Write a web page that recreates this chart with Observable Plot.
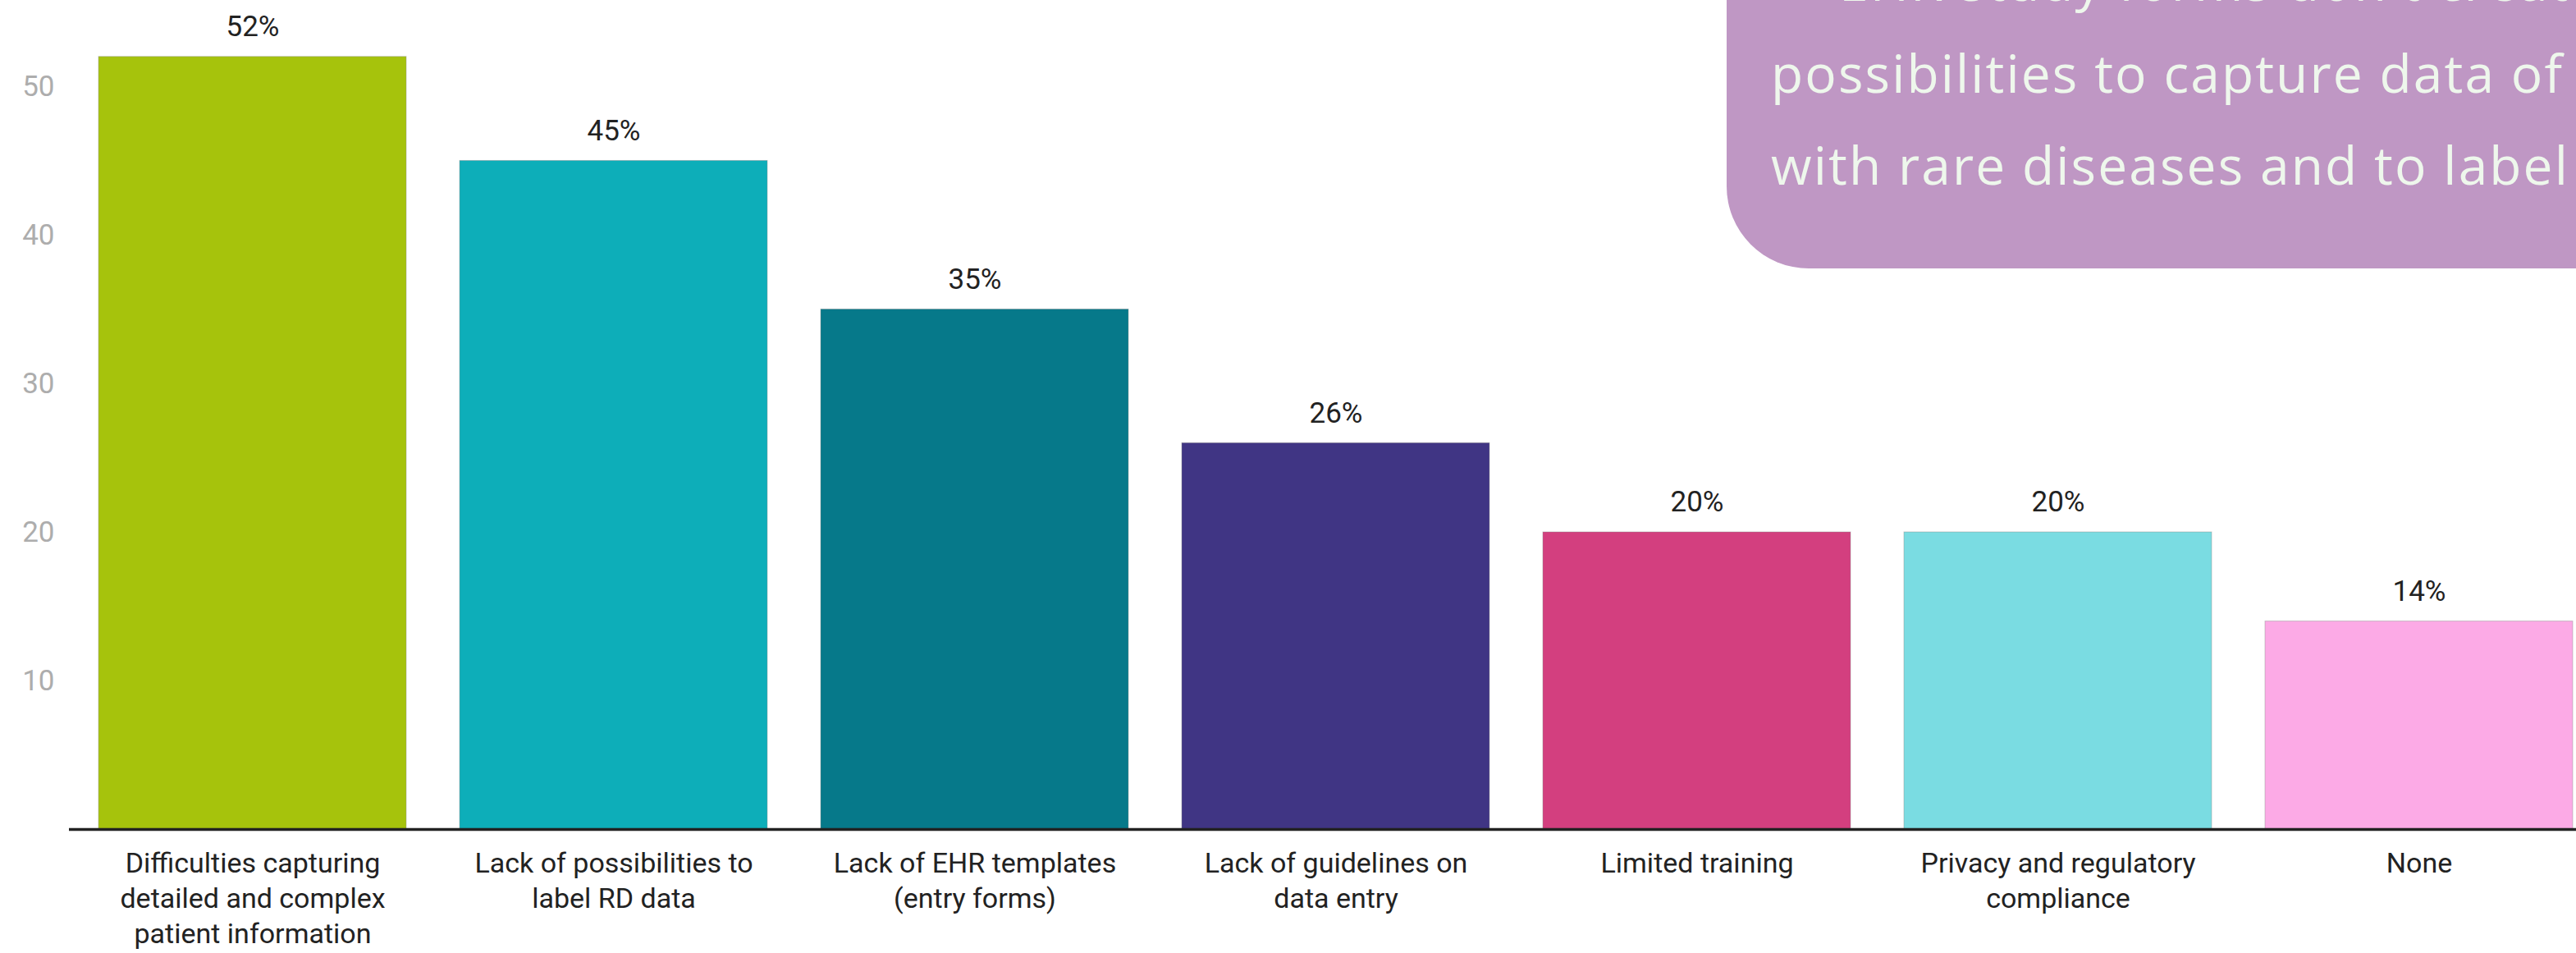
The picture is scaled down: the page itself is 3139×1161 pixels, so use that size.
<!DOCTYPE html>
<html>
<head>
<meta charset="utf-8">
<script src="https://cdn.jsdelivr.net/npm/d3@7"></script>
<script src="https://cdn.jsdelivr.net/npm/@observablehq/plot@0.6"></script>
<style>
  html, body { margin: 0; padding: 0; background: #ffffff; }
  #wrap { position: relative; width: 3139px; height: 1161px; overflow: hidden; font-family: Roboto, sans-serif; }
  #note {
    position: absolute; top: 0; left: 2104px; width: 1035px; height: 327px;
    background: #bf97c4; border-bottom-left-radius: 100px; overflow: hidden;
  }
  #note svg text { font-family: "Open Sans", sans-serif; font-size: 64px; fill: #eef7ec; white-space: pre; }
  svg { display: block; }
</style>
</head>
<body>
<div id="wrap">
  <div id="chart"></div>
  <div id="note">
    <svg width="1035" height="327">
      <text id="n0" x="60" y="1">•</text>
      <text id="n1" x="137" y="1">EHR study forms don't create</text>
      <text id="n2" x="54" y="113">possibilities to capture data of patients</text>
      <text id="n3" x="54" y="225">with rare diseases and to label them</text>
    </svg>
  </div>
</div>
<script>
const categories = [
  "Difficulties capturing detailed and complex patient information",
  "Lack of possibilities to label RD data",
  "Lack of EHR templates (entry forms)",
  "Lack of guidelines on data entry",
  "Limited training",
  "Privacy and regulatory compliance",
  "None"
];
const tickLabels = [
  "Difficulties capturing\ndetailed and complex\npatient information",
  "Lack of possibilities to\nlabel RD data",
  "Lack of EHR templates\n(entry forms)",
  "Lack of guidelines on\ndata entry",
  "Limited training",
  "Privacy and regulatory\ncompliance",
  "None"
];
const values = [52, 45, 35, 26, 20, 20, 14];
const colors = ["#a6c30c", "#0daeb9", "#06798a", "#403584", "#d33f7f", "#7adce2", "#fcaae6"];
const yTicks = [10, 20, 30, 40, 50];

const data = categories.map((c, i) => ({cat: c, label: tickLabels[i], value: values[i]}));

const chart = Plot.plot({
  width: 3139,
  height: 1161,
  marginLeft: 84,
  marginRight: 0,
  marginTop: 0,
  marginBottom: 151,
  style: {fontFamily: "Roboto, sans-serif", background: "transparent"},
  x: {domain: categories, range: [53.5, 3202], padding: 0.1476, axis: null},
  y: {domain: [0, 55.8], range: [1010, 0], axis: null},
  color: {domain: categories, range: colors},
  marks: [
    Plot.barY(data, {x: "cat", y: "value", fill: "cat", stroke: "#8f8f8f", strokeOpacity: 0.45, strokeWidth: 1}),
    Plot.axisY(yTicks, {tickSize: 0, tickPadding: 18, fontSize: 35, color: "#adadad", label: null}),
    Plot.ruleY([0], {stroke: "#222222", strokeWidth: 3.5}),
    Plot.text(data, {x: "cat", y: "value", text: d => d.value + "%", lineAnchor: "bottom", dy: -25,
      fontSize: 35, fill: "#222222", stroke: "white", strokeWidth: 4}),
    Plot.text(data, {x: "cat", y: 0, text: "label", lineAnchor: "top", dy: 22, fontSize: 34,
      lineHeight: 1.265, fill: "#222222"})
  ]
});
document.getElementById("chart").appendChild(chart);

// fit the note's letter spacing so "possibilities to capture data of" spans the reference width
(function () {
  const n2 = document.getElementById("n2");
  const target = 969 - 5;
  const prefix = "possibilities to capture data of";
  const probe = n2.cloneNode(false);
  probe.textContent = prefix;
  n2.parentNode.appendChild(probe);
  const w = probe.getComputedTextLength();
  probe.remove();
  const ls = Math.max(0, (target - w) / (prefix.length - 1));
  for (const id of ["n1", "n2", "n3"]) document.getElementById(id).style.letterSpacing = ls + "px";
})();
</script>
</body>
</html>
